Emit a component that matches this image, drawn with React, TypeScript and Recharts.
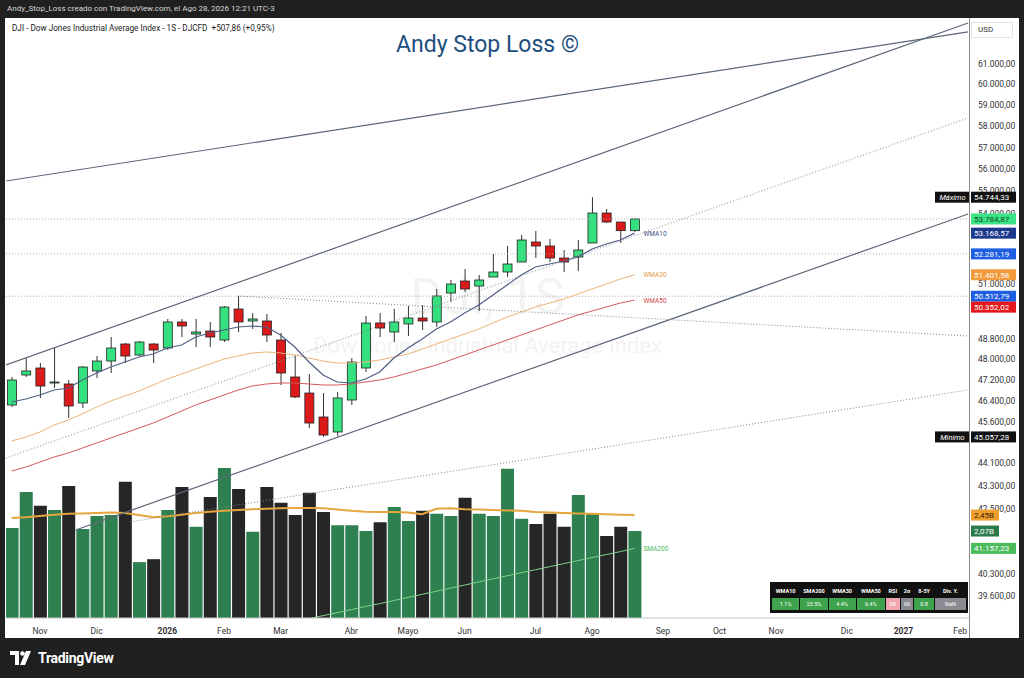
import React from 'react';
import {
  ComposedChart, Bar, Line, XAxis, YAxis, Cell, ReferenceLine, ReferenceDot,
} from 'recharts';

// weekly DJI candles, Oct 2025 -> Aug 2026
const opens = [46240, 47382, 47652, 47075, 47037, 46316, 47536, 47923, 48590, 48158, 48590, 48432, 49467, 48986, 49105, 48748, 49991, 49507, 49507, 48748, 47305, 46693, 45792, 45238, 46429, 47652, 49427, 49066, 49387, 49627, 49467, 50645, 51141, 50934, 51308, 51517, 51937, 52788, 52617, 52106, 52148, 52745, 54045, 53652, 53277];
const highs = [47305, 48040, 47846, 48432, 47190, 47730, 48118, 48867, 48630, 48709, 48630, 49587, 49587, 49587, 49467, 50113, 50522, 49830, 49789, 49026, 48158, 47420, 46693, 46731, 48040, 49707, 49830, 49991, 50113, 50154, 50810, 51183, 51643, 51392, 52275, 52617, 53089, 53262, 52917, 52446, 52874, 54744.33, 54222, 53652, 53785];
const lows = [46165, 47305, 46505, 46884, 45755, 46128, 47267, 47459, 47846, 48118, 47846, 48353, 48867, 48472, 48472, 48669, 49066, 49185, 48669, 46998, 46505, 45385, 45057.28, 45080, 46241, 47497, 48867, 48669, 48907, 49145, 49265, 50276, 50687, 49910, 51308, 51308, 51937, 52106, 51937, 51517, 51559, 52745, 53609, 52745, 53218];
const closes = [47190, 47536, 46960, 47113, 46203, 47690, 47923, 48432, 48118, 48669, 48353, 49467, 49306, 49066, 48867, 50072, 49467, 49587, 48946, 47459, 46543, 45569, 45127, 46505, 47884, 49426, 49225, 49467, 49627, 49507, 50522, 51017, 50810, 51183, 51517, 51853, 52874, 52617, 52106, 51937, 52446, 54046, 53652, 53277, 53784.87];

// volume in billions and its moving average
const volumes = [2.14, 3.0, 2.67, 2.57, 3.14, 2.12, 2.43, 2.45, 3.24, 1.33, 1.4, 2.57, 3.12, 2.17, 2.88, 3.57, 3.07, 2.05, 3.12, 2.74, 2.45, 2.98, 2.52, 2.21, 2.21, 2.07, 2.28, 2.64, 2.31, 2.55, 2.48, 2.43, 2.86, 2.48, 2.43, 3.55, 2.36, 2.24, 2.48, 2.17, 2.93, 2.5, 1.95, 2.17, 2.07];
const volSma = [2.38, 2.4, 2.43, 2.46, 2.48, 2.49, 2.5, 2.51, 2.5, 2.45, 2.4, 2.42, 2.46, 2.5, 2.53, 2.55, 2.57, 2.59, 2.6, 2.61, 2.62, 2.62, 2.61, 2.58, 2.55, 2.53, 2.52, 2.52, 2.51, 2.47, 2.6, 2.61, 2.59, 2.58, 2.57, 2.56, 2.55, 2.52, 2.51, 2.5, 2.49, 2.48, 2.47, 2.46, 2.45];

const wma10 = [46354, 46467, 46618, 46807, 46884, 47190, 47459, 47690, 47884, 48079, 48197, 48432, 48551, 48867, 49026, 49145, 49265, 49306, 49265, 48946, 48472, 47884, 47382, 47113, 47075, 47228, 47497, 48040, 48432, 48788, 49185, 49467, 49829, 50154, 50564, 50976, 51392, 51727, 51853, 51979, 52148, 52489, 52703, 52874, 53168.57];
const wma30 = [44908, 45054, 45238, 45496, 45680, 45904, 46166, 46391, 46580, 46769, 46998, 47228, 47420, 47613, 47807, 48001, 48118, 48236, 48275, 48236, 48158, 48040, 47923, 47846, 47846, 47884, 47962, 48079, 48197, 48393, 48590, 48788, 48986, 49185, 49427, 49667, 49869, 50072, 50235, 50399, 50605, 50810, 51017, 51225, 51401.58];
const wma50 = [43827, 43969, 44148, 44328, 44473, 44654, 44835, 45017, 45201, 45385, 45569, 45792, 46016, 46241, 46429, 46618, 46807, 46960, 47037, 47075, 47075, 47037, 46998, 46998, 47037, 47113, 47190, 47305, 47459, 47613, 47768, 47962, 48158, 48353, 48551, 48748, 48946, 49145, 49346, 49547, 49749, 49910, 50072, 50235, 50352.02];
const sma200 = [null, null, null, null, null, null, null, null, null, null, null, null, null, null, null, null, null, null, null, null, null, 38870, 38970, 39060, 39160, 39260, 39350, 39450, 39550, 39650, 39750, 39850, 39950, 40050, 40150, 40250, 40350, 40450, 40550, 40650, 40750, 40850, 40950, 41050, 41157.23];

const xTickIdx = [2, 6, 11, 15, 19, 24, 28, 32, 37, 41, 46, 50, 54, 59, 63, 67];
const xTickLabels = ['Nov', 'Dic', '2026', 'Feb', 'Mar', 'Abr', 'Mayo', 'Jun', 'Jul', 'Ago', 'Sep', 'Oct', 'Nov', 'Dic', '2027', 'Feb'];
const priceTicks = [61000, 60000, 59000, 58000, 57000, 56000, 55000, 54000, 51000, 48800, 48000, 47200, 46400, 45600, 44100, 43300, 42500, 40300, 39600];

// hand-drawn trendlines [index, price] -> [index, price]
const solidLines = [
  [[-0.4, 55470], [67.56, 62610]],
  [[-0.4, 47768], [67.56, 63066]],
  [[4.52, 41778], [67.56, 54002]],
];
const dottedLines = [
  [[-0.4, 44293], [67.56, 58382]],
  [[16, 50522], [67.56, 48907]],
  [[8.34, 42050], [67.56, 46807]],
];
const levelLines = [53784.87, 52281.19, 50512.79];

const tableHeads = ['WMA10', 'SMA200', 'WMA30', 'WMA50', 'RSI', '2σ', '8-5Y', 'Div. Y.'];
const tableVals = ['1.1%', '23.5%', '4.4%', '6.4%', '68', '60', '0.8', 'NaN'];
const tableBg = ['#3fa34d', '#3fa34d', '#3fa34d', '#3fa34d', '#f2a7b0', '#8a8a92', '#3fa34d', '#8a8a92'];
const tableW = [28, 28, 28, 29, 14, 13, 20, 32];

const data = closes.map((c, i) => ({
  i, o: opens[i], h: highs[i], l: lows[i], c,
  vol: volumes[i], volSma: volSma[i],
  wma10: wma10[i], wma30: wma30[i], wma50: wma50[i], sma200: sma200[i],
}));

const FONT = 'Roboto, "Open Sans", sans-serif';
const UP = '#35e07e';
const DOWN = '#dc1a1a';
const X_DOMAIN: [number, number] = [-0.4, 67.7];
const P_DOMAIN: [number, number] = [38894, 63323];
const V_DOMAIN: [number, number] = [0, 14.28];

const fmt = (v: number) => {
  const [a, b] = v.toFixed(2).split('.');
  return a.replace(/\B(?=(\d{3})+(?!\d))/g, '.') + ',' + b;
};

const Candle = (props: any) => {
  const { x, y, width, height, payload } = props;
  if (!payload || !isFinite(y) || !isFinite(height)) return null;
  const top = Math.min(y, y + height);
  const bot = Math.max(y, y + height);
  const lh = Math.log(payload.h);
  const span = lh - Math.log(payload.l) || 1;
  const py = (v: number) => top + ((bot - top) * (lh - Math.log(v))) / span;
  const yo = py(payload.o);
  const yc = py(payload.c);
  const cx = x + width / 2;
  return (
    <g>
      <line x1={cx} x2={cx} y1={top} y2={bot} stroke="#333" strokeWidth={1} />
      <rect x={x} y={Math.min(yo, yc)} width={width} height={Math.max(1, Math.abs(yc - yo))}
        fill={payload.c >= payload.o ? UP : DOWN} stroke="#222" strokeWidth={0.8} />
    </g>
  );
};

const PriceTag = (props: any) => {
  const { viewBox, text, bg, fg, tag, dy = 0, w = 45 } = props;
  if (!viewBox) return null;
  const right = viewBox.x + viewBox.width;
  const cy = viewBox.y + dy;
  return (
    <g style={{ fontFamily: FONT }}>
      {tag && (
        <g>
          <rect x={right - 35} y={cy - 5.5} width={35} height={11} fill="#111" />
          <text x={right - 17.5} y={cy + 3} textAnchor="middle" fontSize={7.5} fontStyle="italic" fill="#fff">{tag}</text>
        </g>
      )}
      <rect x={right + 1} y={cy - 5.5} width={w} height={11} fill={bg} />
      <text x={right + 4} y={cy + 3} fontSize={8} fill={fg}>{text}</text>
    </g>
  );
};

const LineTag = (props: any) => {
  const { viewBox, text, color } = props;
  if (!viewBox) return null;
  return (
    <text x={viewBox.x + 9} y={viewBox.y + 2.5} fontSize={6.5} fill={color} style={{ fontFamily: FONT }}>{text}</text>
  );
};

const TimeTick = (props: any) => {
  const { x, y, payload } = props;
  const k = xTickIdx.indexOf(payload.value);
  const label = xTickLabels[k] ?? '';
  const bold = /^\d/.test(label);
  return (
    <text x={x} y={y + 8} textAnchor="middle" fontSize={8.5} fill="#333" fontWeight={bold ? 700 : 400} style={{ fontFamily: FONT }}>{label}</text>
  );
};

const TvLogo = () => (
  <svg width={24} height={14} viewBox="0 0 24 14">
    <path d="M0 0h9v14H5V4H0z" fill="#fff" />
    <circle cx={12.5} cy={2.5} r={2.3} fill="#fff" />
    <path d="M16 0h5l-6 14h-5z" fill="#fff" />
  </svg>
);

const CHART = { width: 1014, height: 620, margin: { top: 0, right: 0, bottom: 0, left: 1 } };

export default function App() {
  return (
    <div style={{ position: 'absolute', left: 0, top: 0, width: 1024, height: 678, background: '#202020', fontFamily: FONT, overflow: 'hidden' }}>
      <div style={{ position: 'absolute', left: 7, top: 4, fontSize: 8, color: '#d8d8d8' }}>
        Andy_Stop_Loss creado con TradingView.com, el Ago 28, 2026 12:21 UTC-3
      </div>
      <div style={{ position: 'absolute', left: 5, top: 18, width: 1014, height: 620, background: '#fff' }} />
      <div style={{ position: 'absolute', left: 0, width: 975, top: 268, textAlign: 'center', fontSize: 50, color: '#f3f3f3' }}>DJI, 1S</div>
      <div style={{ position: 'absolute', left: 0, width: 975, top: 333, textAlign: 'center', fontSize: 22, color: '#f3f3f3' }}>Dow Jones Industrial Average Index</div>
      <div style={{ position: 'absolute', left: 0, width: 975, top: 31, textAlign: 'center', fontSize: 23, color: '#1d4e7e' }}>Andy Stop Loss ©</div>
      <div style={{ position: 'absolute', left: 12, top: 23, fontSize: 8.2, color: '#222', whiteSpace: 'pre' }}>
        DJI - Dow Jones Industrial Average Index - 1S - DJCFD  +507,86 (+0,95%)
      </div>

      {/* main chart: volume, averages, trendlines, candles */}
      <div style={{ position: 'absolute', left: 5, top: 18 }}>
        <ComposedChart {...CHART} data={data}>
          <XAxis xAxisId="p" type="number" dataKey="i" domain={X_DOMAIN} allowDataOverflow
            ticks={xTickIdx} interval={0} tickLine={false} axisLine={{ stroke: '#c8c8c8' }} height={20} tick={<TimeTick />} />
          <XAxis xAxisId="v" type="number" dataKey="i" domain={X_DOMAIN} allowDataOverflow hide />
          <YAxis yAxisId="price" orientation="right" scale="log" domain={P_DOMAIN} allowDataOverflow
            ticks={priceTicks} interval={0} width={49} tickLine={false} axisLine={false}
            tickFormatter={fmt} tick={{ fontSize: 8.5, fill: '#333', fontFamily: FONT }} />
          <YAxis yAxisId="vol" domain={V_DOMAIN} allowDataOverflow hide />

          <Bar xAxisId="v" yAxisId="vol" dataKey="vol" barSize={13} isAnimationActive={false}>
            {data.map((d, k) => (
              <Cell key={k} fill={d.c >= d.o ? '#2e8050' : '#262626'} />
            ))}
          </Bar>
          <Line xAxisId="v" yAxisId="vol" dataKey="volSma" stroke="#e5a63e" strokeWidth={2} dot={false} isAnimationActive={false} />
          <Line xAxisId="p" yAxisId="price" dataKey="sma200" stroke="#7fd28a" strokeWidth={1} dot={false} isAnimationActive={false} />

          {levelLines.map((v) => (
            <ReferenceLine key={v} xAxisId="p" yAxisId="price" y={v} stroke="#a9adb5" strokeDasharray="1 2" />
          ))}
          {solidLines.map((s, k) => (
            <ReferenceLine key={'s' + k} xAxisId="p" yAxisId="price" ifOverflow="hidden"
              segment={[{ x: s[0][0], y: s[0][1] }, { x: s[1][0], y: s[1][1] }]} stroke="#5c6878" strokeWidth={1.2} />
          ))}
          {dottedLines.map((s, k) => (
            <ReferenceLine key={'d' + k} xAxisId="p" yAxisId="price" ifOverflow="hidden"
              segment={[{ x: s[0][0], y: s[0][1] }, { x: s[1][0], y: s[1][1] }]} stroke="#7f8590" strokeDasharray="1 2" />
          ))}

          <Line xAxisId="p" yAxisId="price" dataKey="wma50" stroke="#d4585c" strokeWidth={1} dot={false} isAnimationActive={false} />
          <Line xAxisId="p" yAxisId="price" dataKey="wma30" stroke="#eab57a" strokeWidth={1} dot={false} isAnimationActive={false} />
          <Line xAxisId="p" yAxisId="price" dataKey="wma10" stroke="#4f5d84" strokeWidth={1.2} dot={false} isAnimationActive={false} />

          <Bar xAxisId="p" yAxisId="price" dataKey={(d: any) => [d.l, d.h]} barSize={9} isAnimationActive={false}
            shape={(p: any) => <Candle {...p} />} />

          <ReferenceDot xAxisId="p" yAxisId="price" x={44} y={wma10[44]} r={0.01} fill="none" stroke="none" label={<LineTag text="WMA10" color="#3b4f86" />} />
          <ReferenceDot xAxisId="p" yAxisId="price" x={44} y={wma30[44]} r={0.01} fill="none" stroke="none" label={<LineTag text="WMA30" color="#e39b4a" />} />
          <ReferenceDot xAxisId="p" yAxisId="price" x={44} y={wma50[44]} r={0.01} fill="none" stroke="none" label={<LineTag text="WMA50" color="#cf3f45" />} />
          <ReferenceDot xAxisId="p" yAxisId="price" x={44} y={sma200[44] as number} r={0.01} fill="none" stroke="none" label={<LineTag text="SMA200" color="#4cb85c" />} />
        </ComposedChart>
      </div>

      {/* overlay with the same scales, so the price tags sit above the axis labels */}
      <div style={{ position: 'absolute', left: 5, top: 18, pointerEvents: 'none' }}>
        <ComposedChart {...CHART} data={data}>
          <XAxis xAxisId="p" type="number" dataKey="i" domain={X_DOMAIN} allowDataOverflow height={20} tick={false} tickLine={false} axisLine={false} />
          <XAxis xAxisId="v" type="number" dataKey="i" domain={X_DOMAIN} allowDataOverflow hide />
          <YAxis yAxisId="price" orientation="right" scale="log" domain={P_DOMAIN} allowDataOverflow width={49} tick={false} tickLine={false} axisLine={false} />
          <YAxis yAxisId="vol" domain={V_DOMAIN} allowDataOverflow hide />
          <ReferenceLine xAxisId="p" yAxisId="price" y={highs[41]} stroke="none" label={<PriceTag text={fmt(highs[41])} bg="#111" fg="#fff" tag="Máximo" />} />
          <ReferenceLine xAxisId="p" yAxisId="price" y={closes[44]} stroke="none" label={<PriceTag text={fmt(closes[44])} bg="#3ae384" fg="#134a26" />} />
          <ReferenceLine xAxisId="p" yAxisId="price" y={wma10[44]} stroke="none" label={<PriceTag text={fmt(wma10[44])} bg="#1b3a8e" fg="#fff" />} />
          <ReferenceLine xAxisId="p" yAxisId="price" y={levelLines[1]} stroke="none" label={<PriceTag text={fmt(levelLines[1])} bg="#1f5ee0" fg="#fff" />} />
          <ReferenceLine xAxisId="p" yAxisId="price" y={wma30[44]} stroke="none" label={<PriceTag text={fmt(wma30[44])} bg="#f09a3c" fg="#fff" />} />
          <ReferenceLine xAxisId="p" yAxisId="price" y={levelLines[2]} stroke="none" label={<PriceTag text={fmt(levelLines[2])} bg="#1f5ee0" fg="#fff" />} />
          <ReferenceLine xAxisId="p" yAxisId="price" y={wma50[44]} stroke="none" label={<PriceTag text={fmt(wma50[44])} bg="#e5181c" fg="#fff" dy={7} />} />
          <ReferenceLine xAxisId="p" yAxisId="price" y={lows[22]} stroke="none" label={<PriceTag text={fmt(lows[22])} bg="#111" fg="#fff" tag="Mínimo" />} />
          <ReferenceLine xAxisId="v" yAxisId="vol" y={volSma[44]} stroke="none" label={<PriceTag text="2,45B" bg="#f0a030" fg="#3a2500" w={28} />} />
          <ReferenceLine xAxisId="v" yAxisId="vol" y={volumes[44]} stroke="none" label={<PriceTag text="2,07B" bg="#2b7a4b" fg="#fff" w={28} />} />
          <ReferenceLine xAxisId="p" yAxisId="price" y={sma200[44] as number} stroke="none" label={<PriceTag text={fmt(sma200[44] as number)} bg="#4cbb5c" fg="#fff" />} />
        </ComposedChart>
      </div>

      <div style={{ position: 'absolute', left: 969, top: 18, width: 1, height: 620, background: '#8a8a8a' }} />
      <div style={{ position: 'absolute', left: 971, top: 22, width: 42, height: 16, border: '1px solid #e4e4e4', boxSizing: 'border-box', fontSize: 8, color: '#333', lineHeight: '14px', paddingLeft: 6 }}>USD</div>

      <div style={{ position: 'absolute', left: 770, top: 582, width: 198, height: 31, background: '#111', boxSizing: 'border-box', padding: '3px 2px' }}>
        <div style={{ display: 'flex', gap: 1, height: 12, alignItems: 'center' }}>
          {tableHeads.map((t, k) => (
            <div key={k} style={{ width: tableW[k], textAlign: 'center', fontSize: 5.5, color: '#fff', fontWeight: 700 }}>{t}</div>
          ))}
        </div>
        <div style={{ display: 'flex', gap: 1, height: 12, marginTop: 1 }}>
          {tableVals.map((t, k) => (
            <div key={k} style={{ width: tableW[k], background: tableBg[k], textAlign: 'center', fontSize: 5.5, color: '#fff', lineHeight: '12px' }}>{t}</div>
          ))}
        </div>
      </div>

      <div style={{ position: 'absolute', left: 10, top: 650, display: 'flex', alignItems: 'center', gap: 4 }}>
        <TvLogo />
        <span style={{ color: '#fff', fontSize: 14, fontWeight: 700, letterSpacing: -0.3 }}>TradingView</span>
      </div>
    </div>
  );
}
